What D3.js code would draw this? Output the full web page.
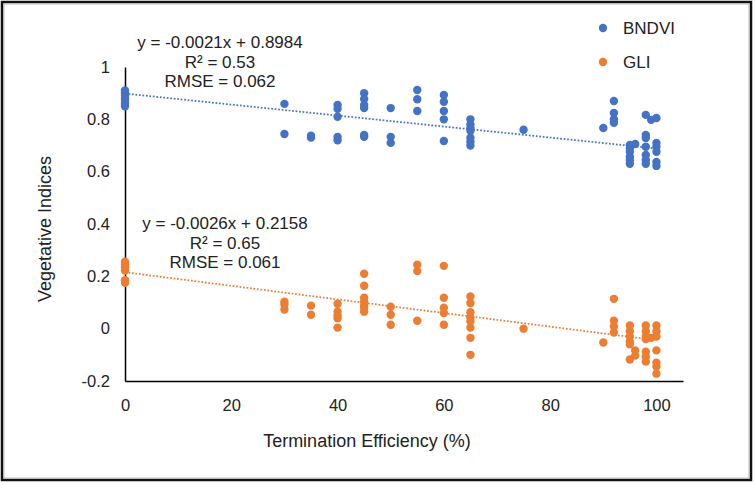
<!DOCTYPE html>
<html><head><meta charset="utf-8">
<script src="https://cdn.jsdelivr.net/npm/d3@7"></script>
<style>html,body{margin:0;padding:0;background:#fff;}svg{display:block;font-family:"Liberation Sans",Arial,sans-serif;}</style>
</head><body>
<svg id="c" width="755" height="485"></svg>
<script>
// Termination efficiency (%) groups and measured values
const bndviX = [0, 30, 35, 40, 45, 50, 55, 60, 65, 75, 90, 92, 95, 96, 98, 99, 100];
const bndviY = [
  [0.91, 0.90, 0.89, 0.88, 0.87, 0.86, 0.85],
  [0.859, 0.744],
  [0.737, 0.73],
  [0.855, 0.84, 0.81, 0.733, 0.72],
  [0.90, 0.878, 0.855, 0.843, 0.74, 0.733],
  [0.843, 0.733, 0.71],
  [0.912, 0.877, 0.832],
  [0.893, 0.867, 0.832, 0.80, 0.717],
  [0.80, 0.78, 0.767, 0.756, 0.73, 0.714, 0.70],
  [0.76],
  [0.767],
  [0.87, 0.824, 0.80, 0.787],
  [0.702, 0.69, 0.676, 0.657, 0.645, 0.63],
  [0.706],
  [0.817, 0.74, 0.729, 0.695, 0.664, 0.645, 0.63],
  [0.798],
  [0.805, 0.71, 0.695, 0.676, 0.637, 0.622]
];
const gliX = [0, 30, 35, 40, 45, 50, 55, 60, 65, 75, 90, 92, 95, 96, 98, 99, 100];
const gliY = [
  [0.256, 0.245, 0.235, 0.222, 0.185, 0.175],
  [0.103, 0.092, 0.073],
  [0.088, 0.053],
  [0.095, 0.065, 0.05, 0.04, 0.004],
  [0.21, 0.164, 0.118, 0.103, 0.088, 0.08, 0.065],
  [0.084, 0.053, 0.015],
  [0.244, 0.22, 0.03],
  [0.24, 0.118, 0.08, 0.06, 0.015],
  [0.123, 0.098, 0.063, 0.043, 0.028, 0.004, -0.035, -0.1],
  [0],
  [-0.053],
  [0.114, 0.03, 0.008, -0.015],
  [0.012, -0.01, -0.03, -0.05, -0.06, -0.118],
  [-0.083, -0.103],
  [0.012, -0.01, -0.03, -0.04, -0.088, -0.107, -0.126],
  [-0.035],
  [0.012, -0.01, -0.03, -0.083, -0.13, -0.145, -0.172]
];
const seriesNames = ["BNDVI", "GLI"];
const trendSlope = [-0.0021, -0.0026];
const trendIntercept = [0.8984, 0.2158];
const bndviLabel = ["y = -0.0021x + 0.8984", "R² = 0.53", "RMSE = 0.062"];
const gliLabel = ["y = -0.0026x + 0.2158", "R² = 0.65", "RMSE = 0.061"];
const xTicks = [0, 20, 40, 60, 80, 100];
const yTicks = [-0.2, 0, 0.2, 0.4, 0.6, 0.8, 1];
const xTitle = "Termination Efficiency (%)";
const yTitle = "Vegetative Indices";

const colors = ["#4472C4", "#ED7D31"];
const svg = d3.select("#c");
const x = d3.scaleLinear().domain([0, 105]).range([125, 683]);
const y = d3.scaleLinear().domain([-0.2, 1]).range([381, 67]);
const txt = "#222";

// frame
svg.append("rect").attr("x", 2).attr("y", 2).attr("width", 749).attr("height", 478)
  .attr("fill", "#fff").attr("stroke", "#111").attr("stroke-width", 2.5);
svg.append("rect").attr("x", 4).attr("y", 4).attr("width", 745).attr("height", 474)
  .attr("fill", "none").attr("stroke", "#aaa").attr("stroke-width", 0.8);

// axes
const xAxis = d3.axisBottom(x).tickValues(xTicks).tickSize(0).tickPadding(18).tickFormat(d => String(d));
const gx = svg.append("g").attr("transform", `translate(0,${y(-0.2)})`).call(xAxis);
gx.select(".domain").attr("stroke", "#000").attr("stroke-width", 1.5);
gx.selectAll("text").attr("font-size", 16.5).attr("fill", txt).attr("font-family", "Liberation Sans, Arial, sans-serif");

const yAxis = d3.axisLeft(y).tickValues(yTicks).tickSize(0).tickPadding(15).tickFormat(d => String(+d.toFixed(1)));
const gy = svg.append("g").attr("transform", `translate(${x(0)},0)`).call(yAxis);
gy.select(".domain").attr("stroke", "#000").attr("stroke-width", 1.5);
gy.selectAll("text").attr("font-size", 16.5).attr("fill", txt).attr("font-family", "Liberation Sans, Arial, sans-serif");

// titles
svg.append("text").attr("x", 367).attr("y", 447).attr("text-anchor", "middle")
  .attr("font-size", 18).attr("fill", txt).text(xTitle);
svg.append("text").attr("transform", "translate(51,229) rotate(-90)").attr("text-anchor", "middle")
  .attr("font-size", 18).attr("fill", txt).text(yTitle);

// trend lines
[0, 1].forEach(i => {
  svg.append("line")
    .attr("x1", x(0)).attr("y1", y(trendIntercept[i]))
    .attr("x2", x(100)).attr("y2", y(trendIntercept[i] + trendSlope[i] * 100))
    .attr("stroke", colors[i]).attr("stroke-width", 1.75).attr("stroke-dasharray", "1.75 1.75");
});

// points
function flatten(xs, ys) {
  const out = [];
  xs.forEach((xv, i) => ys[i].forEach(yv => out.push([xv, yv])));
  return out;
}
[[bndviX, bndviY], [gliX, gliY]].forEach(([xs, ys], i) => {
  svg.append("g").selectAll("circle").data(flatten(xs, ys)).join("circle")
    .attr("cx", d => x(d[0])).attr("cy", d => y(d[1])).attr("r", 4.2)
    .attr("fill", colors[i]);
});

// equation labels
function eq(lines, cx, cy0) {
  lines.forEach((t, k) => {
    svg.append("text").attr("x", cx).attr("y", cy0 + k * 19.5 + 6).attr("text-anchor", "middle")
      .attr("font-size", 17).attr("fill", txt).text(t);
  });
}
eq(bndviLabel, 220, 42);
eq(gliLabel, 225, 223);

// legend
seriesNames.forEach((n, i) => {
  const ly = 28 + i * 34;
  svg.append("circle").attr("cx", 603).attr("cy", ly).attr("r", 4.2).attr("fill", colors[i]);
  svg.append("text").attr("x", 623).attr("y", ly + 6).attr("font-size", 17).attr("fill", txt).text(n);
});
</script>
</body></html>
